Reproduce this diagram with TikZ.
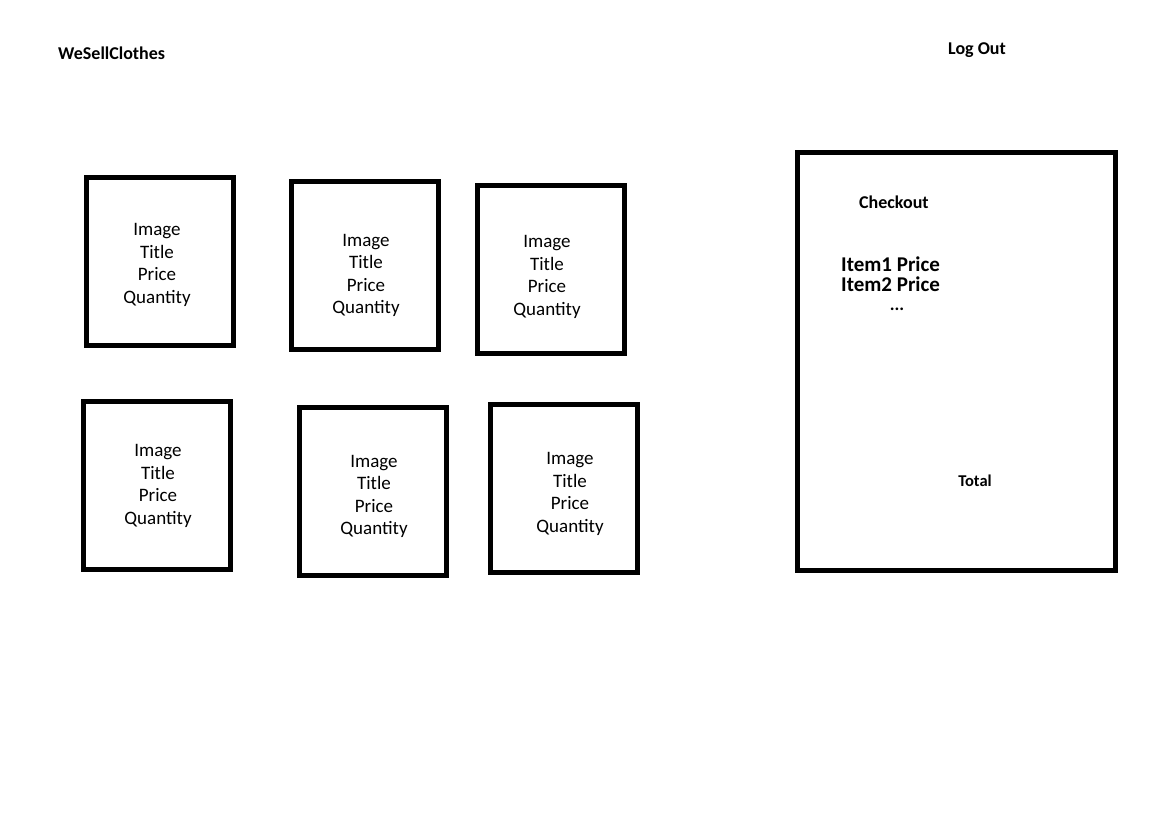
\documentclass[tikz,border=0pt]{standalone}
\usepackage{fontspec}
\setmainfont{Carlito}
\usetikzlibrary{positioning}

\begin{document}
\begin{tikzpicture}[
  x=1pt, y=-1pt,
  card/.style={draw, line width=5pt, minimum width=147pt, minimum height=168pt, inner sep=0pt},
  cardtxt/.style={align=center, inner sep=0pt, font=\fontsize{19}{22.5}\selectfont},
  head/.style={anchor=west, inner sep=0pt, font=\fontsize{18}{21}\bfseries},
  cart/.style={draw, line width=5pt, minimum width=318pt, minimum height=418pt, inner sep=0pt}
]
\useasboundingbox (0,0) rectangle (1152,831);
\node[head] (brand) at (58,53) {WeSellClothes};
\node[head] (logout) at (948,50.5) {Log Out};
\node[card] (p1) at (159.5,261) {};
\node[card] (p2) at (364.5,265) {};
\node[card] (p3) at (550.5,269.5) {};
\node[card] (p4) at (157,485) {};
\node[card] (p5) at (373,491.5) {};
\node[card] (p6) at (564,488.5) {};
\node[cardtxt] (t1) at (157,265) {Image\\Title\\Price\\Quantity};
\node[cardtxt] (t2) at (366,275.5) {Image\\Title\\Price\\Quantity};
\node[cardtxt] (t3) at (547,277) {Image\\Title\\Price\\Quantity};
\node[cardtxt] (t4) at (158,486) {Image\\Title\\Price\\Quantity};
\node[cardtxt] (t5) at (374,496.5) {Image\\Title\\Price\\Quantity};
\node[cardtxt] (t6) at (570,494) {Image\\Title\\Price\\Quantity};
\node[cart] (cart) at (956.5,361.5) {};
\node[anchor=west, inner sep=0pt, font=\fontsize{18}{21}\bfseries] (checkout) at (859,202) {Checkout};
\node[anchor=west, inner sep=0pt, align=left, font=\fontsize{21}{19.5}\bfseries] (items) at (841,274) {Item1 Price\\Item2 Price};
\node[inner sep=0pt, font=\fontsize{18}{21}\bfseries] (more) at (897,309) {...};
\node[inner sep=0pt, font=\fontsize{16.5}{20}\bfseries] (total) at (975,481) {Total};
\end{tikzpicture}
\end{document}
